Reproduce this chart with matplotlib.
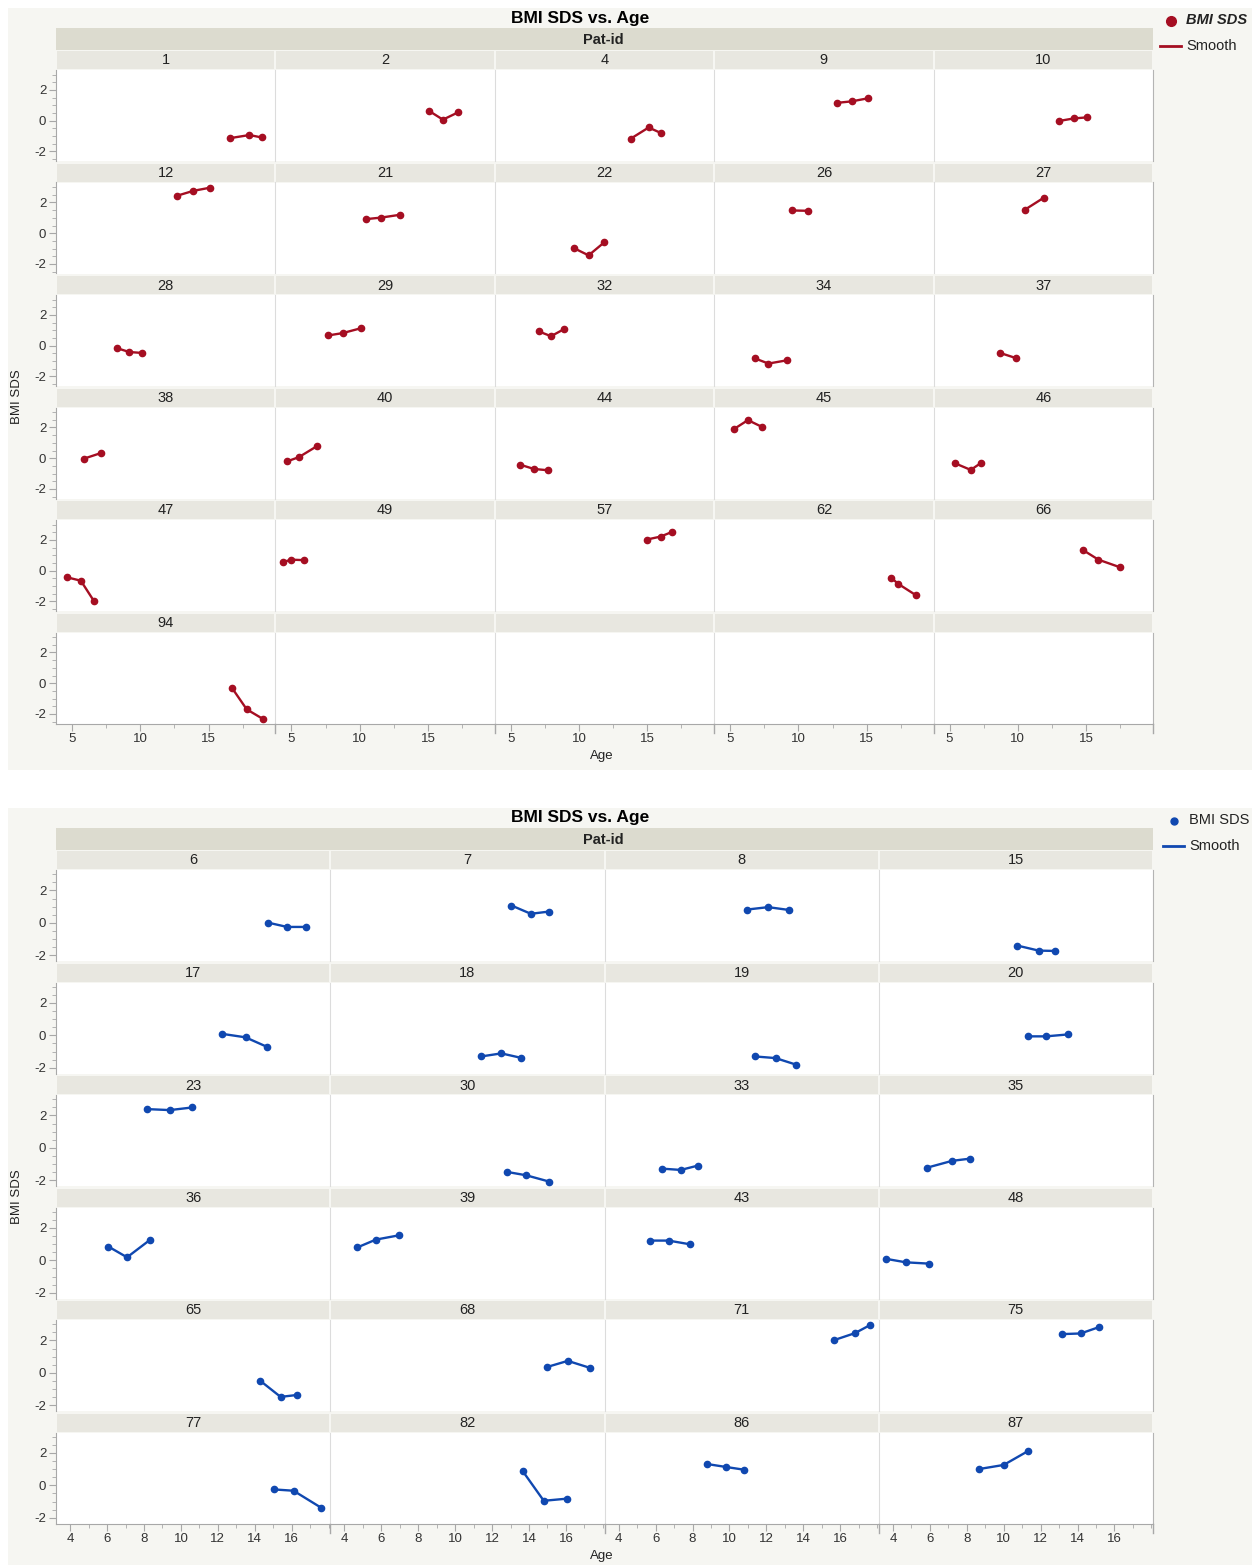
import matplotlib.pyplot as plt
from matplotlib.patches import Rectangle
from matplotlib.lines import Line2D
from matplotlib.ticker import MultipleLocator, FixedLocator

plt.rcParams['font.family'] = ['Liberation Sans', 'DejaVu Sans']
plt.rcParams['axes.unicode_minus'] = False

# ---- top chart (red) ----
top_ids = [1, 2, 4, 9, 10, 12, 21, 22, 26, 27, 28, 29, 32, 34, 37,
           38, 40, 44, 45, 46, 47, 49, 57, 62, 66, 94]
top_age = [
    [16.6, 18.0, 18.9], [15.1, 16.1, 17.2], [13.8, 15.1, 16.0], [12.8, 13.9, 15.1], [13.0, 14.1, 15.1],
    [12.7, 13.9, 15.1], [10.5, 11.6, 12.95], [9.6, 10.7, 11.85], [9.5, 10.7], [10.5, 11.9],
    [8.3, 9.2, 10.15], [7.7, 8.75, 10.1], [7.05, 7.95, 8.9], [6.8, 7.8, 9.15], [8.7, 9.85],
    [5.9, 7.1], [4.7, 5.55, 6.9], [5.65, 6.7, 7.7], [5.3, 6.3, 7.3], [5.4, 6.55, 7.3],
    [4.6, 5.65, 6.6], [4.4, 4.97, 5.9], [14.97, 15.97, 16.8], [16.8, 17.3, 18.6], [14.8, 15.9, 17.5],
    [16.7, 17.8, 19.0],
]
top_bmi = [
    [-1.13, -0.93, -1.09], [0.63, 0.07, 0.54], [-1.16, -0.44, -0.80], [1.16, 1.26, 1.46], [-0.02, 0.15, 0.22],
    [2.44, 2.76, 2.96], [0.92, 1.02, 1.20], [-0.96, -1.44, -0.59], [1.48, 1.46], [1.52, 2.31],
    [-0.16, -0.41, -0.47], [0.67, 0.82, 1.14], [0.93, 0.62, 1.08], [-0.82, -1.16, -0.95], [-0.47, -0.80],
    [-0.02, 0.33], [-0.20, 0.07, 0.80], [-0.41, -0.70, -0.78], [1.91, 2.48, 2.05], [-0.33, -0.76, -0.31],
    [-0.42, -0.65, -1.96], [0.56, 0.72, 0.69], [2.03, 2.22, 2.52], [-0.46, -0.85, -1.59], [1.33, 0.72, 0.22],
    [-0.28, -1.70, -2.33],
]
top_xticks = [5, 10, 15]

# ---- bottom chart (blue) ----
bot_ids = [6, 7, 8, 15, 17, 18, 19, 20, 23, 30, 33, 35,
           36, 39, 43, 48, 65, 68, 71, 75, 77, 82, 86, 87]
bot_age = [
    [14.7, 15.75, 16.8], [13.05, 14.1, 15.1], [10.94, 12.1, 13.2], [10.74, 11.9, 12.8],
    [12.2, 13.5, 14.65], [11.4, 12.5, 13.55], [11.4, 12.5, 13.6], [11.3, 12.3, 13.5],
    [8.17, 9.4, 10.6], [12.8, 13.85, 15.1], [6.35, 7.36, 8.3], [5.85, 7.2, 8.2],
    [6.07, 7.08, 8.33], [4.7, 5.7, 6.93], [5.7, 6.7, 7.87], [3.6, 4.7, 5.95],
    [14.3, 15.4, 16.3], [15.0, 16.1, 17.3], [15.67, 16.8, 17.64], [13.16, 14.17, 15.16],
    [15.05, 16.1, 17.6], [13.67, 14.8, 16.04], [8.77, 9.84, 10.77], [8.68, 10.0, 11.34],
]
bot_bmi = [
    [0.02, -0.25, -0.25], [1.07, 0.56, 0.70], [0.82, 0.97, 0.80], [-1.40, -1.71, -1.73],
    [0.10, -0.12, -0.70], [-1.30, -1.11, -1.38], [-1.30, -1.40, -1.80], [-0.06, -0.06, 0.06],
    [2.39, 2.33, 2.49], [-1.48, -1.69, -2.08], [-1.28, -1.36, -1.09], [-1.22, -0.80, -0.66],
    [0.85, 0.19, 1.27], [0.80, 1.28, 1.54], [1.22, 1.22, 0.99], [0.10, -0.12, -0.20],
    [-0.49, -1.48, -1.36], [0.37, 0.74, 0.31], [2.02, 2.45, 2.96], [2.39, 2.43, 2.82],
    [-0.25, -0.33, -1.38], [0.86, -0.95, -0.82], [1.32, 1.13, 0.97], [1.01, 1.26, 2.13],
]
bot_xticks = [4, 6, 8, 10, 12, 14, 16]

W, H = 1254, 1567
BG = '#f6f6f2'
BAND = '#dcdbcf'
STRIP = '#e8e7e0'
AXC = '#a8a8a8'
DIV = '#dcdcdc'

fig = plt.figure(figsize=(W / 100, H / 100), dpi=100)
fig.patch.set_facecolor('white')


def fx(x):
    return x / W


def fy(y):
    return 1 - y / H


def rect(x0, y0, x1, y1, color):
    fig.add_artist(Rectangle((fx(x0), fy(y1)), (x1 - x0) / W, (y1 - y0) / H,
                             transform=fig.transFigure, facecolor=color,
                             edgecolor='none', zorder=0))


def draw_chart(base, bg_bottom, ids, ages, bmis, ncols, color, xlim, xticks,
               xminor, ylim, legend_style):
    left, right = 56, 1153
    colw = (right - left) / ncols
    nrows = 6
    rect(8, base + 8, W - 2, bg_bottom, BG)
    fig.text(fx(580), fy(base + 18), 'BMI SDS vs. Age', ha='center', va='center',
             fontsize=12.5, fontweight='bold')
    rect(left, base + 28, right, base + 50, BAND)
    fig.text(fx(603), fy(base + 39.5), 'Pat-id', ha='center', va='center',
             fontsize=10.5, fontweight='bold', color='#222222')

    for r in range(nrows):
        for c in range(ncols):
            i = r * ncols + c
            x0 = left + c * colw
            st = base + 51 + 112.5 * r
            pt = base + 70 + 112.5 * r
            pb = base + 161 + 112.5 * r
            rect(x0 + 1, st, x0 + colw - 1, pt - 1, STRIP)
            if i < len(ids):
                fig.text(fx(x0 + colw / 2), fy((st + pt) / 2), str(ids[i]),
                         ha='center', va='center', fontsize=10.5, color='#222222')
            ax = fig.add_axes([fx(x0), fy(pb), colw / W, (pb - pt) / H])
            ax.set_facecolor('white')
            if i < len(ids):
                ax.plot(ages[i], bmis[i], color=color, lw=1.7, marker='o',
                        markersize=4.5, solid_capstyle='round')
            ax.set_xlim(*xlim)
            ax.set_ylim(*ylim)
            ax.xaxis.set_major_locator(FixedLocator(xticks))
            ax.xaxis.set_minor_locator(MultipleLocator(xminor))
            ax.yaxis.set_major_locator(MultipleLocator(2))
            ax.yaxis.set_minor_locator(MultipleLocator(0.5))
            ax.spines['top'].set_visible(False)
            ax.spines['left'].set_color(AXC if c == 0 else DIV)
            ax.spines['right'].set_visible(c == ncols - 1)
            ax.spines['right'].set_color('#b4b4b4')
            ax.spines['bottom'].set_visible(r == nrows - 1)
            ax.spines['bottom'].set_color(AXC)
            ax.tick_params(axis='both', which='both', color=AXC, labelsize=9.5,
                           labelcolor='#333333', pad=2)
            ax.tick_params(axis='both', which='major', length=5)
            ax.tick_params(axis='both', which='minor', length=3)
            ax.tick_params(axis='y', which='both', left=(c == 0), labelleft=(c == 0))
            ax.tick_params(axis='x', which='both', bottom=(r == nrows - 1),
                           labelbottom=(r == nrows - 1))
            if r == nrows - 1 and c > 0:
                fig.add_artist(Line2D([fx(x0), fx(x0)], [fy(pb), fy(pb + 9)],
                                      transform=fig.transFigure, color=AXC, lw=1))
        if r == nrows - 1:
            fig.add_artist(Line2D([fx(right), fx(right)], [fy(pb), fy(pb + 9)],
                                  transform=fig.transFigure, color=AXC, lw=1))

    grid_top = base + 70
    grid_bot = base + 161 + 112.5 * (nrows - 1)
    fig.text(fx(17), fy((grid_top + grid_bot) / 2), 'BMI SDS', rotation=90,
             ha='center', va='center', fontsize=9.5, color='#222222')
    fig.text(fx(602), fy(base + 756), 'Age', ha='center', va='center',
             fontsize=9.5, color='#222222')

    # legend
    lx = 1171 if legend_style == 'bold' else 1174
    fig.add_artist(Line2D([fx(lx)], [fy(base + 20.5)], transform=fig.transFigure,
                          marker='o', color=color,
                          markersize=7 if legend_style == 'bold' else 5, lw=0))
    fig.text(fx(lx + 15), fy(base + 20.5), 'BMI SDS', ha='left', va='center',
             fontsize=10.5,
             fontweight='bold' if legend_style == 'bold' else 'normal',
             fontstyle='italic' if legend_style == 'bold' else 'normal',
             color='#222222')
    fig.add_artist(Line2D([fx(lx - 11), fx(lx + 10)], [fy(base + 45.5), fy(base + 45.5)],
                          transform=fig.transFigure, color=color, lw=2))
    fig.text(fx(lx + 15), fy(base + 45.5), 'Smooth', ha='left', va='center',
             fontsize=10.5, color='#222222')


draw_chart(0, 770, top_ids, top_age, top_bmi, 5, '#a50e22', (3.83, 19.9), top_xticks, 2.5,
           (-2.62, 3.3), 'bold')
draw_chart(800, 1565, bot_ids, bot_age, bot_bmi, 4, '#1048b0', (3.23, 18.09), bot_xticks, 1,
           (-2.35, 3.26), 'normal')

fig.savefig('out.png', dpi=100, facecolor='white')
